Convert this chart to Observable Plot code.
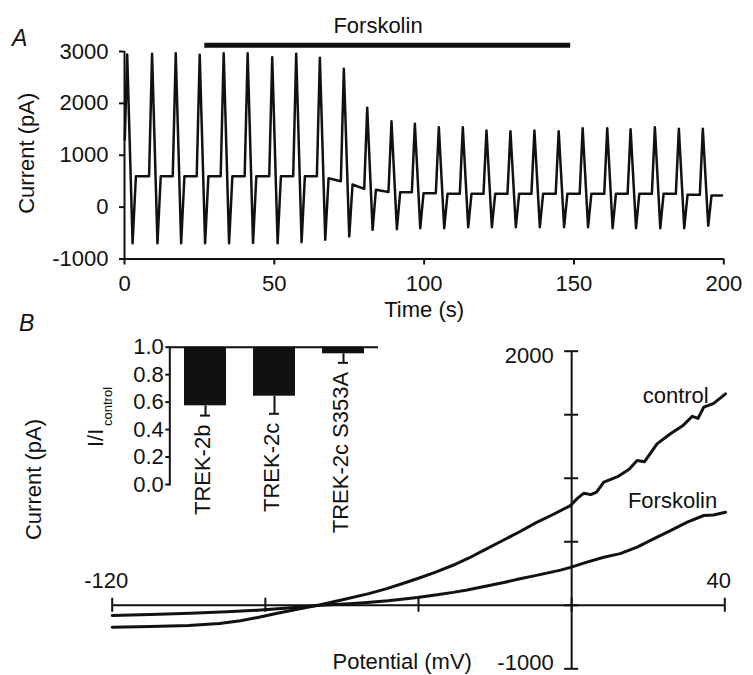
<!DOCTYPE html>
<html>
<head>
<meta charset="utf-8">
<script src="https://cdn.jsdelivr.net/npm/d3@7"></script>
<script src="https://cdn.jsdelivr.net/npm/@observablehq/plot@0.6"></script>
<style>
  html, body { margin: 0; padding: 0; background: #fff; }
  #fig { position: relative; width: 753px; height: 675px; overflow: hidden; background: #fff;
         font-family: "Liberation Sans", Arial, Helvetica, sans-serif; color: #111; }
  .panel { position: absolute; font-style: italic; font-size: 23px; line-height: 1; }
</style>
</head>
<body>
<div id="fig">
  <div class="panel" style="left:12px;top:27px;">A</div>
  <div class="panel" style="left:19px;top:312px;">B</div>
</div>
<script>
// ---------------- Panel A: current vs time ----------------
const timeTicks = [0, 50, 100, 150, 200];
const currentTicksA = [-1000, 0, 1000, 2000, 3000];
// one entry per voltage-ramp cycle
const peakTimes   = [0.9, 9.2, 17.1, 25.1, 33.1, 41.1, 49.3, 57.3, 65.2, 73.2, 81.0, 89.1, 96.9,
                     104.9, 112.9, 120.8, 128.8, 136.8, 144.9, 152.9, 161.1, 168.9, 177.0, 185.0, 193.0];
const peakValues  = [2942, 2955, 2967, 2936, 2967, 2967, 2890, 2955, 2878, 2666, 1914, 1656, 1606,
                     1540, 1540, 1477, 1463, 1477, 1463, 1521, 1521, 1502, 1540, 1509, 1509];
const troughValues = [-696, -696, -696, -696, -696, -690, -696, -677, -630, -567, -438, -425, -407,
                      -407, -387, -387, -387, -387, -387, -387, -407, -407, -407, -407, -360];
const levelStartValues = [596, 596, 596, 596, 596, 596, 596, 596, 557, 436, 333, 287, 268,
                          256, 256, 256, 256, 256, 256, 256, 256, 256, 256, 237, 224];
const levelEndValues   = [596, 596, 596, 596, 596, 596, 596, 596, 499, 353, 290, 287, 268,
                          256, 256, 256, 256, 256, 256, 256, 256, 256, 256, 237, 224];
const traceStart = {t: 0.1, v: 1300};
const traceEndTime = 199.4;
// ramp timing within a cycle (s)
const troughDelay = 1.8, levelDelay = 2.9, riseLead = 1.0;
// forskolin application bar
const forskolinBar = {start: 26.8, end: 148.9, level: 3120};
const forskolinLabel = {t: 84.6, v: 3485, text: "Forskolin"};

const trace = [traceStart];
peakTimes.forEach((p, i) => {
  trace.push({t: p, v: peakValues[i]});
  trace.push({t: p + troughDelay, v: troughValues[i]});
  trace.push({t: p + levelDelay, v: levelStartValues[i]});
  const end = i + 1 < peakTimes.length ? peakTimes[i + 1] - riseLead : traceEndTime;
  trace.push({t: end, v: levelEndValues[i]});
});

// ---------------- Panel B: I-V relation ----------------
const potentialTicks = [-120, -80, -40, 0, 40];
const potentialTickLabels = [-120, 40];
const currentTicksB = [-1000, -400, 200, 800, 1400, 2000];
const xAxisCurrent = -400;
const controlIV = [[-120, -607], [-110, -600], [-100, -591], [-92, -572], [-86.5, -546], [-82, -515],
  [-77.8, -483], [-71.7, -437], [-65.6, -395], [-60.4, -352], [-53, -290], [-48.5, -245],
  [-44.3, -197], [-40, -145], [-35.5, -87], [-31, -22], [-26.8, 47], [-22.5, 128], [-18, 212],
  [-13.7, 292], [-9.4, 378], [-5, 455], [-0.3, 542], [1.5, 610], [3.2, 659], [5, 645], [6.5, 668],
  [8.4, 763], [12, 815], [15, 885], [17.1, 968], [19, 955], [22.3, 1125], [25.8, 1220], [29, 1295],
  [31.5, 1385], [33, 1365], [34.5, 1471], [37, 1505], [40.2, 1597]];
const forskolinIV = [[-120, -497], [-110, -487], [-99.6, -475], [-90, -462], [-82.1, -447],
  [-75, -428], [-71.7, -418], [-65.6, -400], [-58, -385], [-53.4, -373], [-48, -357], [-43.8, -340],
  [-40.3, -326], [-35.1, -300], [-31, -278], [-27.3, -255], [-22.5, -220], [-17.7, -185], [-13.5, -150],
  [-9.5, -120], [-2.9, -68], [-0.3, -42], [4.0, 7], [8.4, 54], [12.7, 88], [17.1, 149], [21.4, 228],
  [25.8, 306], [30.2, 385], [34.5, 448], [37, 452], [40.2, 479]];
const curveLabels = [{mv: 35.8, pa: 1581, text: "control"}, {mv: 38, pa: 590, text: "Forskolin"}];

// ---------------- Inset: I/Icontrol ----------------
const constructs = ["TREK-2b", "TREK-2c", "TREK-2c S353A"];
const ratios = [0.573, 0.643, 0.952];
const ratioErrors = [0.071, 0.128, 0.066];
const ratioTicks = [0, 0.2, 0.4, 0.6, 0.8, 1.0];
const insetData = constructs.map((name, i) => ({name, ratio: ratios[i], low: ratios[i] - ratioErrors[i]}));

const FONT = '"Liberation Sans", Arial, Helvetica, sans-serif';
const styleAt = (left, top) => ({position: "absolute", left: left + "px", top: top + "px",
  background: "transparent", fontSize: "22px", fontFamily: FONT, color: "#111", overflow: "visible"});
const centered = {textAnchor: "middle", lineAnchor: "middle"};

const plotA = Plot.plot({
  width: 753, height: 325,
  marginLeft: 124, marginRight: 29.7, marginTop: 51, marginBottom: 66.5,
  x: {domain: [0, 200]},
  y: {domain: [-1000, 3000]},
  style: styleAt(0, 0),
  marks: [
    Plot.ruleX([0], {strokeWidth: 2}),
    Plot.ruleY([-1000], {strokeWidth: 2}),
    Plot.axisY({ticks: currentTicksA, tickSize: 5, tickPadding: 11, tickFormat: d => String(d), label: null, strokeWidth: 2}),
    Plot.axisX({ticks: timeTicks, tickSize: 6, tickPadding: 10.5, tickFormat: d => String(d), label: null, strokeWidth: 2}),
    Plot.line(trace, {x: "t", y: "v", strokeWidth: 2.5}),
    Plot.ruleY([forskolinBar.level], {x1: forskolinBar.start, x2: forskolinBar.end, strokeWidth: 5}),
    Plot.text([forskolinLabel], {x: "t", y: "v", text: "text"}),
    Plot.text(["Current (pA)"], {frameAnchor: "left", rotate: -90, dx: -98, dy: -2, ...centered}),
    Plot.text(["Time (s)"], {frameAnchor: "bottom", dy: 50.5, ...centered})
  ]
});

const plotB = Plot.plot({
  width: 753, height: 375,
  marginLeft: 111.7, marginRight: 28.7, marginTop: 50.7, marginBottom: 6.7,
  axis: null,
  x: {domain: [-120, 40]},
  y: {domain: [-1000, 2000]},
  style: styleAt(0, 300),
  marks: [
    Plot.ruleY([xAxisCurrent], {strokeWidth: 2}),
    Plot.ruleX([0], {strokeWidth: 2}),
    Plot.ruleX(potentialTicks, {x: d => d, y1: xAxisCurrent, y2: xAxisCurrent, insetTop: -7, insetBottom: -7, strokeWidth: 2}),
    Plot.ruleY(currentTicksB, {y: d => d, x1: 0, x2: 0, insetLeft: -7, insetRight: -7, strokeWidth: 2}),
    Plot.line(controlIV, {x: d => d[0], y: d => d[1], strokeWidth: 3}),
    Plot.line(forskolinIV, {x: d => d[0], y: d => d[1], strokeWidth: 3}),
    Plot.text(curveLabels, {x: "mv", y: "pa", text: "text", textAnchor: "end"}),
    Plot.text(potentialTickLabels, {x: d => d, y: xAxisCurrent, text: d => String(d), dx: -6, dy: -24.5}),
    Plot.text([2000], {x: 0, y: d => d, text: d => String(d), textAnchor: "end", dx: -18, dy: 5}),
    Plot.text([-1000], {x: 0, y: d => d, text: d => String(d), textAnchor: "end", dx: -18, dy: -5.5}),
    Plot.text(["Potential (mV)"], {frameAnchor: "bottom", dx: -16.3, dy: -6.5, ...centered}),
    Plot.text(["Current (pA)"], {frameAnchor: "left", rotate: -90, dx: -78.3, dy: -30.5, ...centered})
  ]
});

const inset = Plot.plot({
  width: 400, height: 240,
  marginLeft: 169.3, marginRight: 22, marginTop: 46.7, marginBottom: 56,
  x: {domain: constructs, axis: null, paddingInner: 0.39, paddingOuter: 0.2},
  y: {domain: [0, 1]},
  style: styleAt(0, 300),
  marks: [
    Plot.barY(insetData, {x: "name", y1: "ratio", y2: 1, fill: "#111"}),
    Plot.ruleX(insetData, {x: "name", y1: "ratio", y2: "low", strokeWidth: 2}),
    Plot.tickY(insetData, {x: "name", y: "low", inset: 16, strokeWidth: 2}),
    Plot.ruleY([1], {strokeWidth: 2}),
    Plot.frame({anchor: "left", strokeWidth: 2}),
    Plot.axisY({ticks: ratioTicks, tickSize: 4, tickPadding: 2, tickFormat: d3.format(".1f"), label: null, strokeWidth: 2}),
    Plot.text(insetData, {x: "name", y: "low", text: "name", rotate: -90, textAnchor: "end", dx: -3, dy: 9}),
    Plot.text(["I/I"], {frameAnchor: "left", rotate: -90, dx: -74.3, dy: 22, ...centered}),
    Plot.text(["control"], {frameAnchor: "left", rotate: -90, dx: -61.5, dy: -9.4, fontSize: 13, ...centered})
  ]
});

const fig = document.getElementById("fig");
fig.appendChild(plotA);
fig.appendChild(plotB);
fig.appendChild(inset);
</script>
</body>
</html>
